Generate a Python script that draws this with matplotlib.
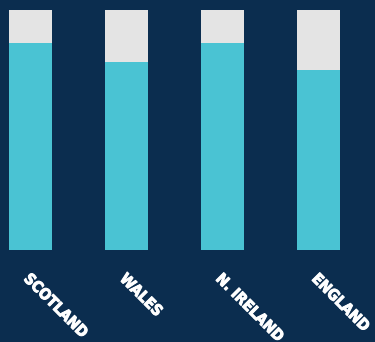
import matplotlib
matplotlib.use("Agg")
import matplotlib.pyplot as plt
import matplotlib.patheffects as pe
import numpy as np

categories = ["SCOTLAND", "WALES", "N. IRELAND", "ENGLAND"]
share_yes = [86.3, 78.3, 86.3, 75.0]
share_rest = [100 - v for v in share_yes]

BG = "#0b2d4f"
CYAN = "#4ac3d3"
GRAY = "#e4e4e4"

fig = plt.figure(figsize=(3.75, 3.42), dpi=100, facecolor=BG)
ax = fig.add_axes([0, 92 / 342, 1, 240 / 342])
ax.set_facecolor(BG)

x = np.arange(len(categories))
w = 43 / 96
ax.bar(x, share_yes, width=w, color=CYAN, linewidth=0)
ax.bar(x, share_rest, width=w, bottom=share_yes, color=GRAY, linewidth=0)

ax.set_xlim(-30.5 / 96, (375 - 30.5) / 96)
ax.set_ylim(0, 100)
ax.axis("off")

for xi, lab in zip(x, categories):
    ax.annotate(lab, xy=(xi, 0), xycoords=("data", "axes fraction"),
                xytext=(1, -21), textcoords="offset pixels",
                rotation=-45, rotation_mode="anchor", ha="left", va="top",
                color="white", fontsize=11, fontweight="bold",
                fontstretch="condensed", family="DejaVu Sans",
                path_effects=[pe.withStroke(linewidth=0.7, foreground="white")])

fig.savefig("out.png", dpi=100, facecolor=BG)
